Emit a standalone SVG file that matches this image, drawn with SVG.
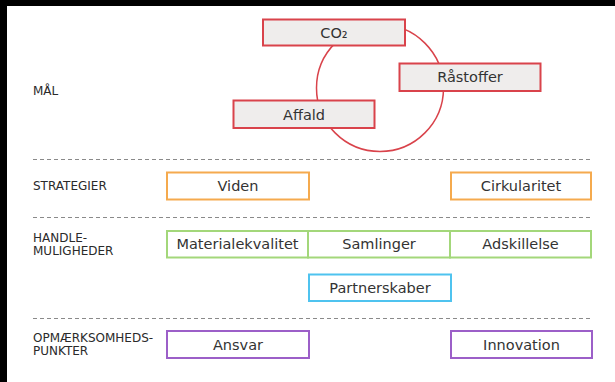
<svg xmlns="http://www.w3.org/2000/svg" width="615" height="382" viewBox="0 0 615 382">
<style>
text{font-family:"DejaVu Sans","Verdana",sans-serif;fill:#333}
.lbl{font-size:12px;fill:#2a2a2a}
.bt{font-size:14.5px;text-anchor:middle}
.red{fill:#efedec;stroke:#d9434b;stroke-width:2}
.org{fill:#fff;stroke:#f5aa4e;stroke-width:2}
.grn{fill:#fff;stroke:#a3d77a;stroke-width:2}
.blu{fill:#fff;stroke:#4fc3ef;stroke-width:2}
.pur{fill:#fff;stroke:#9c5fc8;stroke-width:2}
.dash{stroke:#8a8a8a;stroke-width:1;stroke-dasharray:4 3;fill:none}
</style>
<rect x="0" y="0" width="615" height="382" fill="#000"/>
<rect x="7" y="6" width="608" height="376" fill="#fff"/>
<g id="labels">
<text class="lbl" x="33" y="95">MÅL</text>
<text class="lbl" x="33" y="190">STRATEGIER</text>
<text class="lbl" x="33" y="242">HANDLE-</text>
<text class="lbl" x="33" y="255">MULIGHEDER</text>
<text class="lbl" x="33" y="342">OPMÆRKSOMHEDS-</text>
<text class="lbl" x="33" y="355">PUNKTER</text>
</g>
<g id="connectors">
<circle cx="380" cy="88" r="63.5" fill="none" stroke="#d9434b" stroke-width="1.5"/>
<line class="dash" x1="33" y1="159.5" x2="590" y2="159.5"/>
<line class="dash" x1="33" y1="217.5" x2="590" y2="217.5"/>
<line class="dash" x1="33" y1="318.5" x2="590" y2="318.5"/>
</g>
<g id="co2"><rect class="red" x="263" y="19.5" width="142" height="26"/><text class="bt" x="334" y="38">CO₂</text></g>
<g id="raastoffer"><rect class="red" x="399.5" y="63.5" width="141" height="27.5"/><text class="bt" x="470" y="82">Råstoffer</text></g>
<g id="affald"><rect class="red" x="233.5" y="100.5" width="141" height="27.5"/><text class="bt" x="304" y="119.5">Affald</text></g>
<g id="viden"><rect class="org" x="167" y="172.5" width="142" height="27"/><text class="bt" x="238" y="191">Viden</text></g>
<g id="cirkularitet"><rect class="org" x="451" y="172.5" width="140" height="27"/><text class="bt" x="521" y="191">Cirkularitet</text></g>
<g id="materialekvalitet"><rect class="grn" x="167" y="231" width="141" height="26.5"/><text class="bt" x="237.5" y="249">Materialekvalitet</text></g>
<g id="samlinger"><rect class="grn" x="308" y="231" width="142" height="26.5"/><text class="bt" x="379" y="249">Samlinger</text></g>
<g id="adskillelse"><rect class="grn" x="450" y="231" width="141" height="26.5"/><text class="bt" x="520.5" y="249">Adskillelse</text></g>
<g id="partnerskaber"><rect class="blu" x="309" y="274.5" width="142" height="26.5"/><text class="bt" x="380" y="292.5">Partnerskaber</text></g>
<g id="ansvar"><rect class="pur" x="167" y="331" width="142" height="27"/><text class="bt" x="238" y="349.5">Ansvar</text></g>
<g id="innovation"><rect class="pur" x="451" y="331" width="141" height="27"/><text class="bt" x="521.5" y="349.5">Innovation</text></g>
</svg>
